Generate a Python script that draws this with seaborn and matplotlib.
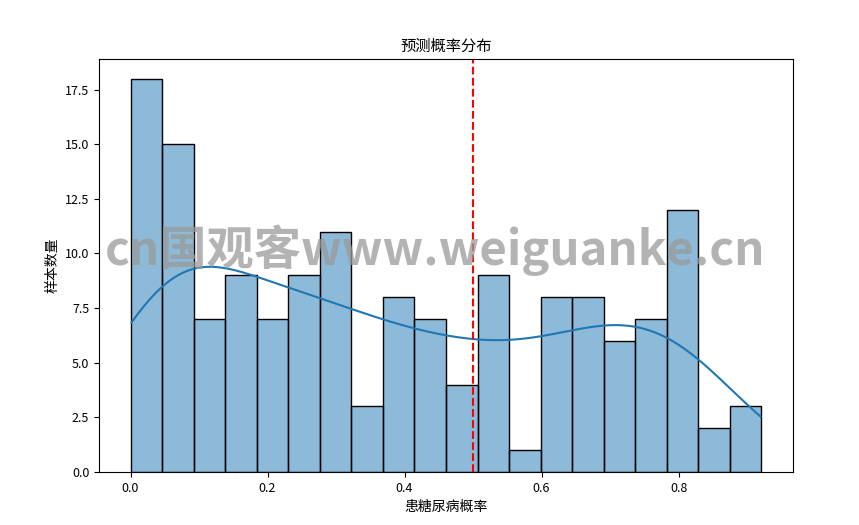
import numpy as np
import pandas as pd
import matplotlib
matplotlib.use("Agg")
import matplotlib.pyplot as plt
import seaborn as sns

plt.rcParams['font.family'] = ['Noto Sans CJK SC', 'DejaVu Sans']
plt.rcParams['axes.unicode_minus'] = False

# Data (20 bins over 0 .. 0.921)
bin_lo = 0.0
bin_hi = 0.921
counts = [18, 15, 7, 9, 7, 9, 11, 3, 8, 7, 4, 9, 1, 8, 8, 6, 7, 12, 2, 3]
threshold = 0.5

title = "预测概率分布"
xlabel = "患糖尿病概率"
ylabel = "样本数量"
watermark = "cn国观客www.weiguanke.cn"

edges = np.linspace(bin_lo, bin_hi, len(counts) + 1)
centers = (edges[:-1] + edges[1:]) / 2
df = pd.DataFrame({"prob": centers, "n": counts})

fig = plt.figure(figsize=(8.59, 5.25), dpi=100)
ax = fig.add_axes([99/859, 1 - 472/525, (793-99)/859, (472-59)/525])

sns.histplot(data=df, x="prob", weights="n", bins=len(counts),
             binrange=(bin_lo, bin_hi), kde=True, ax=ax,
             kde_kws={"bw_adjust": 0.6, "cut": 0.24},
             edgecolor="black", linewidth=1.0)
ax.axvline(threshold, color="red", linestyle="--", linewidth=1.5)

ax.set_title(title, fontsize=11)
ax.set_xlabel(xlabel, fontsize=10)
ax.set_ylabel(ylabel, fontsize=10)
ax.set_yticks(np.arange(0, 18, 2.5))
ax.set_ylim(0, 18.9)
ax.tick_params(labelsize=9)

fig.text(0.506, 0.523, watermark, fontsize=34, color="#9a9a9a", alpha=0.75,
         ha="center", va="center", fontweight="bold", zorder=10)

fig.savefig("out.png", dpi=100)
